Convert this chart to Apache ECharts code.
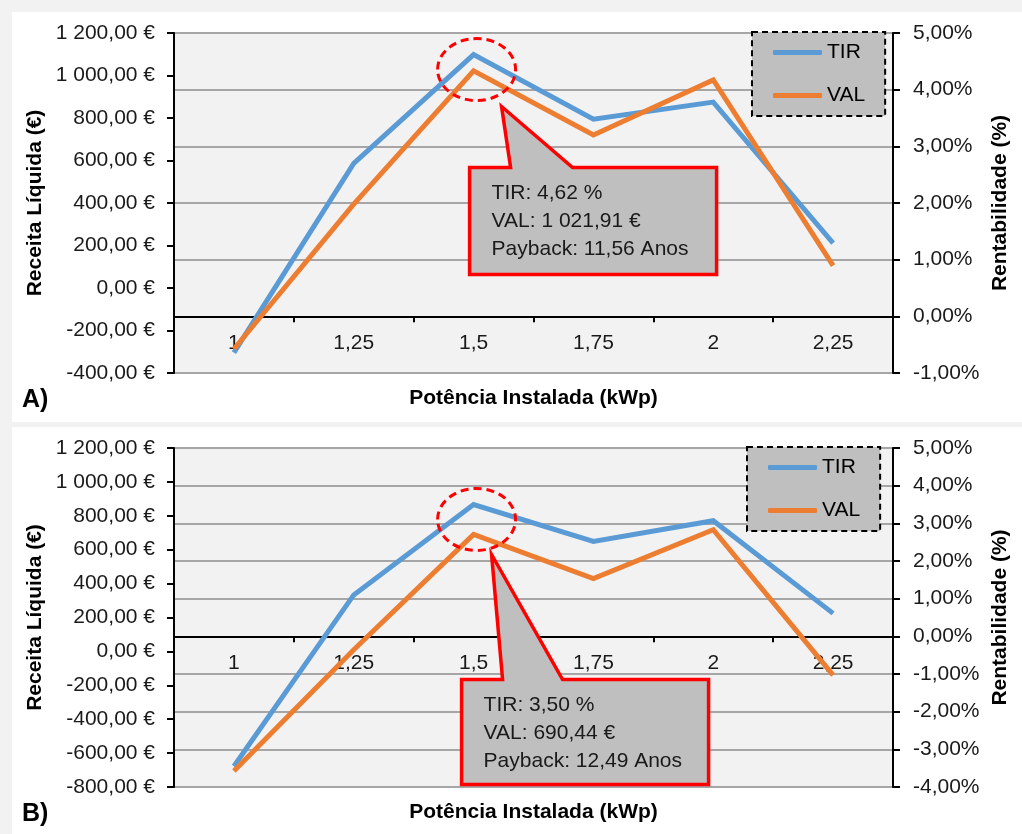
<!DOCTYPE html>
<html>
<head>
<meta charset="utf-8">
<script src="https://cdn.jsdelivr.net/npm/echarts@6/dist/echarts.min.js"></script>
<style>
  html, body { margin: 0; padding: 0; background: #f2f2f2; }
  #chart { width: 1022px; height: 834px; }
</style>
</head>
<body>
<div id="chart"></div>
<script>
// Potência instalada (kWp)
const categories = ["1", "1,25", "1,5", "1,75", "2", "2,25"];

// Painel A
const tirA = [-0.64, 2.70, 4.62, 3.48, 3.78, 1.29];      // %
const valA = [-287, 395, 1021.91, 720, 979, 105];        // €
const calloutA = ["TIR: 4,62 %", "VAL: 1 021,91 €", "Payback: 11,56 Anos"];

// Painel B
const tirB = [-3.45, 1.10, 3.50, 2.52, 3.07, 0.61];      // %
const valB = [-705, 10, 690.44, 430, 718, -140];         // €
const calloutB = ["TIR: 3,50 %", "VAL: 690,44 €", "Payback: 12,49 Anos"];

const peakIndex = 2; // 1,5 kWp

const FONT = '"Liberation Sans", Arial, Helvetica, sans-serif';
const BLUE = "#5b9bd5";
const ORANGE = "#ed7d31";
const TEXT = "#1a1a1a";

function fmtEur(v) {
  const parts = Math.abs(v).toFixed(2).split(".");
  const intPart = parts[0].replace(/\B(?=(\d{3})+(?!\d))/g, " ");
  return (v < 0 ? "-" : "") + intPart + "," + parts[1] + " €";
}

function fmtPct(v) {
  return v.toFixed(2).replace(".", ",") + "%";
}

// layout of the two panels
const panels = [
  {
    label: "A)", top: 33, height: 340, bg: [12, 12, 1010, 410],
    valMin: -400, valMax: 1200, pctMin: -1, pctMax: 5,
    tir: tirA, val: valA, callout: calloutA, legendPos: [752, 32],
    ell: [3, 15], tip: [25, 37], box: [-7, 98, 247, 107], base: [34, 96],
  },
  {
    label: "B)", top: 448, height: 339, bg: [12, 427, 1010, 407],
    valMin: -800, valMax: 1200, pctMin: -4, pctMax: 5,
    tir: tirB, val: valB, callout: calloutB, legendPos: [747, 447],
    ell: [3, 15], tip: [15, 35], box: [-15, 160, 247, 105], base: [26, 86],
  },
];
const gridLeft = 174;
const gridWidth = 719;

const axisLineStyle = { color: "#000", width: 2 };
const grids = [], xAxes = [], yAxes = [], series = [], legends = [];

panels.forEach((p, i) => {
  grids.push({
    left: gridLeft, top: p.top, width: gridWidth, height: p.height,
    show: true, backgroundColor: "#f2f2f2", borderWidth: 0,
    containLabel: false, outerBoundsMode: "none",
  });

  // category axis crosses the % axis at 0,00%
  const zeroOffset = -p.height * (0 - p.pctMin) / (p.pctMax - p.pctMin);
  xAxes.push({
    type: "category", gridIndex: i, data: categories, boundaryGap: true,
    position: "bottom", offset: zeroOffset,
    axisLine: { show: true, onZero: false, lineStyle: axisLineStyle },
    axisTick: { show: true, length: 6, lineStyle: axisLineStyle },
    axisLabel: { fontSize: 21, color: TEXT, fontFamily: FONT, margin: 16 },
    splitLine: { show: false },
  });

  yAxes.push({
    type: "value", gridIndex: i, position: "left",
    min: p.valMin, max: p.valMax, interval: 200,
    axisLine: { show: true, onZero: false, lineStyle: axisLineStyle },
    axisTick: { show: true, length: 7, lineStyle: axisLineStyle },
    axisLabel: { formatter: fmtEur, fontSize: 21, color: TEXT, fontFamily: FONT, margin: 19 },
    splitLine: { show: false },
    name: "Receita Líquida (€)", nameLocation: "middle", nameRotate: 90, nameGap: 128,
    nameMoveOverlap: false,
    nameTextStyle: { fontSize: 21, fontWeight: "bold", color: "#000", fontFamily: FONT },
  });

  yAxes.push({
    type: "value", gridIndex: i, position: "right",
    min: p.pctMin, max: p.pctMax, interval: 1,
    axisLine: { show: true, onZero: false, lineStyle: axisLineStyle },
    axisTick: { show: true, length: 7, lineStyle: axisLineStyle },
    axisLabel: { formatter: fmtPct, fontSize: 21, color: TEXT, fontFamily: FONT, margin: 20 },
    splitLine: { show: true, lineStyle: { color: "#a6a6a6", width: 2 } },
    name: "Rentabilidade (%)", nameLocation: "middle", nameRotate: 90, nameGap: 97,
    nameMoveOverlap: false,
    nameTextStyle: { fontSize: 21, fontWeight: "bold", color: "#000", fontFamily: FONT },
  });

  series.push({
    name: "TIR", type: "line", xAxisIndex: i, yAxisIndex: i * 2 + 1,
    data: p.tir, symbol: "none", z: 3,
    lineStyle: { color: BLUE, width: 5, join: "miter" }, itemStyle: { color: BLUE },
  });
  series.push({
    name: "VAL", type: "line", xAxisIndex: i, yAxisIndex: i * 2,
    data: p.val, symbol: "none", z: 4,
    lineStyle: { color: ORANGE, width: 5, join: "miter" }, itemStyle: { color: ORANGE },
  });

  legends.push({
    data: ["TIR", "VAL"], orient: "vertical",
    left: p.legendPos[0], top: p.legendPos[1],
    padding: [10, 20, 10, 21], itemGap: 22, itemWidth: 49, itemHeight: 5,
    icon: "roundRect",
    backgroundColor: "#bfbfbf", borderColor: "#000", borderWidth: 2, borderType: [6, 4],
    textStyle: { fontSize: 21, color: "#000", fontFamily: FONT },
    selectedMode: false, z: 10,
  });
});

const chart = echarts.init(document.getElementById("chart"));
chart.setOption({
  backgroundColor: "#f2f2f2",
  animation: false,
  textStyle: { fontFamily: FONT },
  grid: grids,
  xAxis: xAxes,
  yAxis: yAxes,
  legend: legends,
  series: series,
});

// annotations: panel frames, titles, dashed circle and callout box
const graphics = [];
panels.forEach((p, i) => {
  const [bx, by, bw, bh] = p.bg;
  graphics.push({
    type: "rect", z: -10, silent: true,
    shape: { x: bx, y: by, width: bw, height: bh }, style: { fill: "#ffffff" },
  });
  graphics.push({
    type: "text", z: 20, silent: true, x: gridLeft + gridWidth / 2, y: p.top + p.height + 25,
    style: {
      text: "Potência Instalada (kWp)", align: "center", verticalAlign: "middle",
      font: "bold 21px " + FONT, fill: "#000",
    },
  });
  graphics.push({
    type: "text", z: 20, silent: true, x: 22, y: p.top + p.height + 27,
    style: { text: p.label, align: "left", verticalAlign: "middle", font: "bold 25px " + FONT, fill: "#000" },
  });

  const peak = chart.convertToPixel({ xAxisIndex: i, yAxisIndex: i * 2 + 1 }, [peakIndex, p.tir[peakIndex]]);
  const cx = peak[0] + p.ell[0];
  const cy = peak[1] + p.ell[1];
  graphics.push({
    type: "ellipse", z: 20, silent: true,
    shape: { cx: cx, cy: cy, rx: 39, ry: 31 },
    style: { fill: null, stroke: "#ff0000", lineWidth: 3, lineDash: [8, 5] },
  });

  const L = cx + p.box[0], T = cy + p.box[1], W = p.box[2], H = p.box[3];
  graphics.push({
    type: "polygon", z: 20, silent: true,
    shape: {
      points: [
        [L, T], [cx + p.base[0], T], [cx + p.tip[0], cy + p.tip[1]], [cx + p.base[1], T],
        [L + W, T], [L + W, T + H], [L, T + H],
      ],
    },
    style: { fill: "#bfbfbf", stroke: "#ff0000", lineWidth: 3.5, lineJoin: "miter" },
  });
  p.callout.forEach((line, k) => {
    graphics.push({
      type: "text", z: 21, silent: true, x: L + 22, y: T + 26 + k * 28,
      style: { text: line, align: "left", verticalAlign: "middle", font: "21px " + FONT, fill: TEXT },
    });
  });
});

chart.setOption({ graphic: graphics });

window.addEventListener("resize", () => chart.resize());
</script>
</body>
</html>
